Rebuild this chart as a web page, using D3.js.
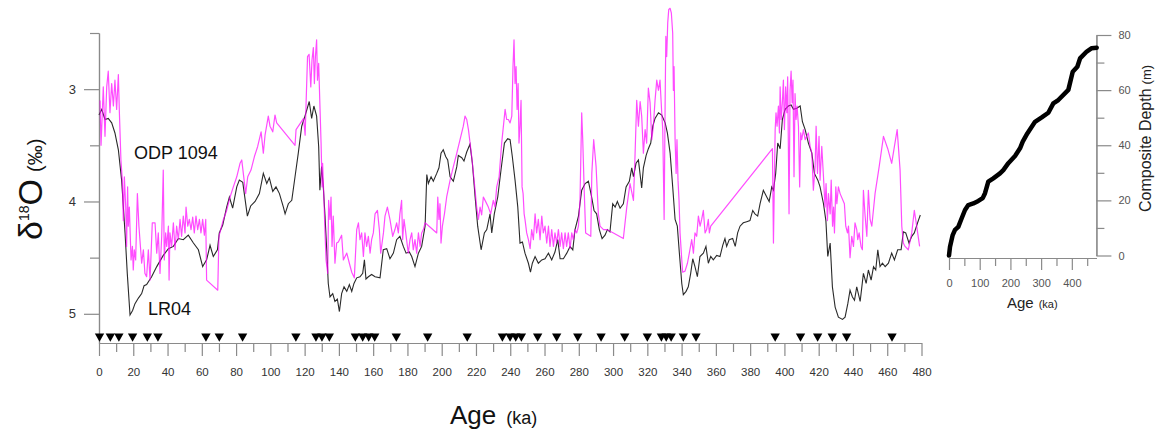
<!DOCTYPE html>
<html>
<head>
<meta charset="utf-8">
<script src="https://cdn.jsdelivr.net/npm/d3@7"></script>
<style>
    body { margin: 0; background: #fff; }
    svg { display: block; font-family: "Liberation Sans", Arial, sans-serif; }
</style>
</head>
<body>
<svg id="chart" width="1161" height="433"></svg>
<script>
// LR04 stack, [age ka, d18O permil]
const lr04 = [
    [0,3.23],[1.6,3.18],[3.5,3.27],[5.4,3.26],[7.4,3.30],[9.3,3.39],[11.3,3.54],[13.2,3.81],[15.2,4.28],[16.5,4.64],
    [18.1,5.01],[19.6,4.97],[21.0,4.91],[23.0,4.86],[24.9,4.82],[26.3,4.75],[27.8,4.74],[30.7,4.67],[33.7,4.58],[37.5,4.48],
    [40.5,4.42],[43.4,4.40],[46.3,4.33],[49.2,4.34],[52.1,4.30],[55.1,4.37],[58.0,4.43],[60.5,4.58],[62.8,4.52],[64.8,4.39],
    [66.7,4.49],[69.1,4.43],[70.2,4.28],[72.2,4.21],[74.5,4.05],[76.1,3.96],[78.0,4.06],[80.4,3.87],[81.9,3.81],[83.9,3.83],
    [86.6,4.13],[88.5,4.04],[91.1,4.00],[93.6,3.93],[95.9,3.75],[97.9,3.84],[99.4,3.79],[101.4,3.91],[103.3,3.87],[105.3,3.93],
    [107.6,4.05],[108.6,4.11],[110.5,4.02],[112.5,3.99],[114.4,3.78],[116.3,3.57],[118.3,3.33],[120.2,3.24],[122.7,3.11],[124.1,3.26],
    [125.4,3.15],[127.0,3.24],[128.2,3.51],[128.9,3.90],[129.9,3.69],[130.9,3.87],[131.9,4.13],[132.9,4.43],[133.8,4.73],[134.8,4.85],
    [136.4,4.82],[137.7,4.89],[139.1,4.87],[140.3,4.98],[141.6,4.82],[143.0,4.76],[144.6,4.80],[146.1,4.74],[147.5,4.80],[148.8,4.73],
    [150.4,4.68],[152.3,4.67],[153.9,4.64],[154.9,4.52],[155.8,4.69],[157.2,4.67],[159.1,4.65],[161.1,4.67],[164.0,4.68],[165.9,4.43],
    [167.9,4.42],[169.8,4.51],[171.8,4.46],[173.7,4.34],[175.6,4.31],[177.6,4.40],[179.2,4.46],[181.1,4.45],[182.5,4.49],[184.4,4.58],
    [186.4,4.46],[188.3,4.40],[190.3,4.22],[191.3,3.76],[192.2,3.84],[193.8,3.78],[195.1,3.82],[197.1,3.75],[198.4,3.70],[199.6,3.57],
    [200.9,3.54],[202.3,3.60],[203.5,3.63],[204.9,3.78],[206.8,3.82],[208.8,3.69],[209.7,3.59],[211.7,3.61],[213.0,3.64],[214.6,3.56],
    [216.5,3.49],[217.9,3.66],[219.5,3.96],[221.0,4.22],[223.0,4.43],[224.9,4.28],[226.3,4.25],[228.2,4.11],[229.2,4.28],[230.7,4.11],
    [232.7,3.96],[234.6,3.72],[236.6,3.48],[238.5,3.44],[239.9,3.45],[241.2,3.60],[242.8,3.81],[244.4,4.05],[245.7,4.37],[247.1,4.36],
    [248.6,4.46],[250.6,4.55],[251.8,4.63],[252.9,4.55],[254.5,4.49],[256.4,4.55],[258.4,4.52],[260.3,4.51],[262.3,4.46],[264.2,4.52],
    [266.1,4.45],[267.7,4.34],[269.1,4.51],[271.0,4.51],[273.0,4.46],[274.9,4.40],[276.5,4.43],[277.8,4.25],[279.8,4.13],[281.7,3.90],
    [283.7,3.84],[285.6,3.82],[287.5,3.96],[288.9,4.08],[290.4,4.11],[292.0,4.25],[293.6,4.33],[295.3,4.30],[296.7,4.25],[298.2,4.27],
    [299.8,4.02],[301.2,4.05],[302.5,4.00],[304.1,4.06],[306.0,4.02],[307.6,3.87],[309.5,3.82],[310.9,3.70],[311.9,3.78],[313.4,3.66],
    [314.8,3.63],[316.7,3.88],[317.7,3.70],[319.3,3.59],[320.6,3.53],[322.0,3.48],[323.2,3.33],[324.5,3.26],[326.5,3.21],[328.4,3.23],
    [330.4,3.30],[331.7,3.39],[333.3,3.57],[334.8,3.87],[336.2,4.16],[337.5,4.22],[338.7,4.46],[340.1,4.73],[341.0,4.83],[342.6,4.80],
    [343.9,4.76],[345.3,4.64],[346.5,4.51],[347.8,4.58],[349.2,4.67],[350.7,4.49],[352.7,4.46],[354.2,4.40],[355.6,4.55],[357.0,4.49],
    [358.5,4.52],[360.5,4.48],[362.4,4.49],[364.0,4.39],[365.3,4.33],[366.3,4.40],[367.8,4.34],[369.8,4.33],[371.3,4.40],[372.7,4.28],
    [374.1,4.22],[376.0,4.19],[378.0,4.18],[379.9,4.17],[381.5,4.08],[382.8,4.11],[384.4,4.13],[385.8,4.02],[387.7,3.90],[389.7,3.96],
    [391.1,4.00],[392.6,3.87],[393.6,3.90],[394.9,3.75],[396.1,3.48],[397.5,3.53],[398.8,3.27],[400.4,3.18],[402.3,3.15],[403.9,3.14],
    [405.3,3.18],[407.2,3.17],[409.2,3.15],[410.5,3.29],[412.1,3.36],[414.0,3.48],[416.0,3.57],[417.5,3.75],[419.5,3.81],[420.8,3.87],
    [422.8,4.02],[424.2,4.17],[425.3,4.49],[426.7,4.37],[428.0,4.76],[429.6,4.94],[431.5,5.03],[433.9,5.05],[435.4,5.03],[437.0,4.91],
    [438.3,4.79],[439.7,4.85],[440.9,4.88],[442.2,4.76],[444.2,4.89],[446.1,4.64],[447.7,4.73],[449.0,4.61],[450.6,4.70],[452.0,4.58],
    [453.3,4.61],[454.5,4.43],[455.8,4.58],[457.2,4.55],[458.8,4.58],[460.7,4.55],[462.6,4.46],[464.2,4.52],[466.1,4.43],[468.1,4.43],
    [469.4,4.27],[470.8,4.28],[472.7,4.37],[474.3,4.31],[475.8,4.28],[477.7,4.19],[479.3,4.12]
];

// ODP 1094 benthic record, [age ka, d18O permil]
const odp1094 = [
    [0.6,3.10],[1.2,3.50],[2.5,2.98],[3.5,3.42],[4.5,2.98],[5.4,2.84],[6.4,3.21],[7.4,2.95],[8.4,3.15],[9.3,2.92],
    [10.3,3.18],[11.3,2.87],[11.9,3.21],[12.8,3.63],[13.6,3.81],[14.2,4.17],[14.8,3.78],[15.6,4.05],[16.1,4.40],[16.7,3.87],
    [17.1,4.22],[17.7,4.05],[18.7,4.52],[19.5,4.40],[20.0,4.61],[20.6,4.43],[21.4,4.52],[22.4,3.93],[23.3,4.22],[24.9,4.55],
    [25.9,4.43],[26.8,4.64],[27.8,4.67],[28.8,4.43],[29.8,4.70],[31.1,4.19],[32.7,4.19],[33.7,4.46],[34.6,4.28],[35.6,4.64],
    [36.6,4.31],[37.5,3.72],[38.1,4.52],[38.9,4.28],[39.5,4.40],[40.5,4.22],[40.9,4.70],[41.4,4.28],[42.4,4.40],[43.4,4.19],
    [44.4,4.43],[45.3,4.22],[46.3,4.34],[47.3,4.16],[48.2,4.31],[49.2,4.13],[50.2,4.28],[50.8,4.05],[51.8,4.22],[52.7,4.16],
    [53.7,4.25],[54.7,4.14],[55.6,4.28],[56.6,4.13],[57.6,4.25],[58.6,4.16],[59.5,4.28],[60.5,4.16],[61.5,4.30],[62.3,4.16],
    [62.8,4.70],[69.3,4.79],[70.0,4.31],[72.6,4.16],[74.5,4.08],[76.5,3.96],[78.4,3.87],[80.4,3.78],[82.3,3.66],[83.3,3.63],
    [85.6,3.93],[86.8,3.78],[88.7,3.72],[90.7,3.60],[92.6,3.51],[94.6,3.38],[95.9,3.57],[96.9,3.41],[98.8,3.24],[99.8,3.33],
    [101.4,3.38],[102.7,3.23],[103.7,3.30],[114.4,3.50],[115.0,3.36],[119.4,3.26],[120.3,3.41],[120.9,3.10],[121.7,2.71],[122.6,2.69],
    [123.6,2.98],[124.3,2.74],[125.1,2.63],[125.7,2.95],[126.3,2.71],[127.0,2.56],[127.5,2.92],[128.2,2.77],[129.0,3.18],[129.6,3.48],
    [130.2,3.87],[130.5,3.66],[131.3,3.99],[131.9,4.28],[132.5,4.52],[133.5,4.64],[134.0,3.99],[134.8,4.16],[135.4,3.96],[136.0,4.40],
    [136.7,4.13],[137.7,4.55],[138.7,4.37],[139.7,4.36],[141.6,4.30],[142.6,4.52],[144.6,4.46],[146.1,4.55],[147.5,4.63],[149.0,4.68],
    [150.4,4.25],[151.4,4.19],[152.3,4.34],[153.3,4.28],[154.3,4.49],[155.2,4.28],[156.2,4.40],[157.2,4.31],[158.2,4.46],[159.1,4.34],
    [160.1,4.28],[161.1,4.11],[162.5,4.08],[163.6,4.25],[164.4,4.46],[166.0,4.28],[166.9,4.13],[168.3,4.05],[169.8,4.16],[171.4,4.31],
    [172.7,4.25],[173.7,4.19],[174.7,4.28],[175.6,4.11],[176.6,3.99],[177.2,4.34],[178.0,4.16],[178.8,4.25],[179.5,4.34],[180.5,4.46],
    [181.5,4.34],[182.5,4.28],[183.4,4.43],[184.4,4.34],[185.4,4.46],[186.4,4.28],[187.4,4.40],[188.3,4.28],[189.3,4.25],[190.3,4.19],
    [197.1,4.28],[197.7,3.96],[198.4,4.16],[199.0,4.02],[199.6,4.37],[200.4,4.22],[201.6,4.11],[202.9,3.96],[204.9,3.81],[206.8,3.69],
    [208.8,3.57],[210.7,3.45],[212.6,3.33],[213.6,3.24],[214.6,3.27],[215.6,3.36],[217.5,3.60],[219.1,3.84],[220.4,4.05],[221.4,4.16],
    [222.4,4.05],[223.3,4.12],[224.3,3.96],[225.3,3.99],[227.2,4.05],[228.6,4.11],[230.1,3.99],[231.1,4.05],[232.1,3.87],[233.5,3.78],
    [235.0,3.48],[237.0,3.18],[237.9,3.27],[238.9,3.27],[239.9,3.30],[240.9,3.24],[241.6,2.80],[242.2,2.56],[242.8,2.95],[243.4,2.80],
    [244.0,3.18],[244.6,2.95],[245.1,3.48],[245.7,3.33],[246.3,3.10],[246.9,3.87],[247.5,3.93],[248.1,4.11],[248.6,4.16],[249.6,4.28],
    [250.6,4.34],[251.6,4.42],[252.5,4.25],[253.5,4.34],[254.5,4.11],[255.4,4.28],[256.4,4.16],[257.4,4.34],[258.4,4.13],[259.3,4.28],
    [260.3,4.22],[261.3,4.37],[262.3,4.22],[263.2,4.40],[264.2,4.25],[265.2,4.40],[266.1,4.28],[267.1,4.37],[268.1,4.25],[269.1,4.40],
    [270.0,4.28],[271.0,4.42],[272.0,4.28],[272.9,4.40],[273.9,4.28],[274.9,4.42],[275.9,4.28],[276.8,4.34],[277.8,4.25],[278.8,4.28],
    [279.8,4.22],[280.7,3.99],[281.7,3.21],[282.3,3.45],[283.1,3.87],[284.0,4.28],[287.0,4.31],[287.6,3.75],[288.7,3.45],[290.1,3.69],
    [291.4,4.11],[292.4,4.22],[294.4,4.25],[296.3,4.25],[300.2,4.28],[306.0,4.33],[308.0,4.05],[309.9,3.84],[311.9,3.99],[312.8,3.60],
    [313.8,3.10],[314.8,3.33],[315.8,3.11],[316.7,3.24],[317.7,3.57],[318.7,3.36],[319.6,3.48],[320.6,2.99],[321.6,3.12],[322.6,3.45],
    [323.5,3.33],[324.5,3.10],[325.5,2.92],[326.5,3.01],[327.4,2.92],[328.4,3.21],[329.0,3.36],[329.8,4.16],[330.4,3.10],[330.8,2.53],
    [331.3,2.71],[331.9,2.41],[332.5,2.29],[333.3,2.28],[334.0,2.32],[334.8,2.50],[335.2,3.01],[335.6,2.80],[336.2,3.45],[336.8,3.75],
    [337.3,3.45],[337.9,3.81],[338.5,3.99],[339.1,4.28],[340.1,4.52],[340.6,4.63],[342.0,4.62],[343.4,4.55],[344.5,4.46],[345.9,4.34],
    [346.9,4.46],[347.8,4.28],[348.8,4.31],[349.8,4.13],[350.8,4.22],[351.7,4.16],[352.7,4.08],[353.7,4.28],[354.6,4.25],[355.6,4.16],
    [356.2,4.28],[357.0,4.22],[393.0,3.53],[393.6,4.37],[394.6,3.36],[395.1,3.21],[395.7,3.33],[396.5,3.15],[397.1,3.39],[397.5,2.98],
    [398.1,3.27],[398.8,3.12],[399.4,2.92],[400.0,3.36],[400.7,2.98],[401.4,3.21],[401.9,2.89],[402.7,4.11],[403.3,3.01],[403.9,2.84],
    [404.5,3.12],[405.0,2.92],[405.6,3.78],[406.2,3.04],[406.8,3.27],[407.4,3.15],[408.2,3.33],[408.9,3.87],[409.5,3.39],[410.1,3.45],
    [411.1,3.36],[412.1,3.45],[413.0,3.42],[414.0,3.39],[415.0,3.51],[416.0,3.57],[416.9,3.90],[417.9,3.69],[418.5,3.33],[419.3,3.75],
    [420.2,3.42],[420.8,3.81],[421.8,3.51],[422.8,3.78],[423.7,4.05],[424.3,3.84],[425.1,4.17],[425.7,3.93],[426.7,4.11],[427.3,3.81],
    [428.1,4.22],[428.7,4.05],[429.2,4.28],[430.0,3.87],[430.6,4.02],[431.5,3.87],[432.5,3.93],[435.0,4.02],[435.8,4.22],[436.8,4.28],
    [437.4,4.22],[438.3,4.50],[439.3,4.31],[440.3,4.40],[441.2,4.19],[442.2,4.25],[442.8,4.34],[443.6,4.28],[444.7,4.40],[445.5,4.43],
    [446.1,3.90],[447.1,4.13],[448.1,4.31],[449.0,3.90],[450.0,4.16],[451.0,4.22],[452.9,3.93],[455.3,3.69],[457.8,3.42],[460.3,3.53],
    [462.6,3.66],[464.2,3.51],[465.8,3.36],[467.5,3.72],[468.5,4.22],[469.4,4.37],[470.4,4.40],[472.3,4.43],[474.3,4.28],[475.8,4.08],
    [477.2,4.22],[478.9,4.40]
];

// age control points (ka), drawn as triangles under the curves
const tiePoints = [
    0.3, 6.6, 11.6, 19.6, 28.2, 34.4, 62.4, 70.2, 83.8, 114.9, 126.6, 130.1, 134.4,
    149.6, 153.9, 157.4, 160.9, 173.5, 191.8, 214.9, 235.4, 239.9, 243.2, 246.5,
    256.0, 267.1, 279.4, 293.0, 306.8, 320.0, 328.2, 331.0, 333.9, 341.0, 348.4,
    394.6, 409.4, 419.4, 427.9, 436.3, 462.8
];

// age model of the inset, [age ka, composite depth m]
const depthAge = [
    [0,0],[3.3,3.2],[12,7.4],[19.5,9.3],[30.3,10.4],[41.3,13.5],[52.1,16.5],[62.9,18.3],[79.2,18.9],[95.5,19.8],
    [109.8,20.8],[117.3,22.6],[128,26.8],[144.3,28.0],[166.1,29.8],[176.9,31.0],[193.2,33.5],[215,36.1],[231.3,38.9],
    [240.1,41.3],[255.1,44.3],[280.1,48.5],[302,50.1],[323.5,51.8],[339.7,55.2],[356,56.4],[388.6,60.1],[402.9,66.7],
    [417.9,68.5],[426.7,71.5],[448.5,74.0],[464.8,75.2],[481,75.4]
];

const ageTicks = d3.range(0, 481, 20);
const ageMinor = d3.range(10, 480, 20);
const d18oTicks = [3, 4, 5];
const d18oMinor = [2.5, 3.5, 4.5];
const insetAgeTicks = [0, 100, 200, 300, 400];
const insetAgeMinor = [50, 150, 250, 350, 450];
const depthTicks = [0, 20, 40, 60, 80];
const depthMinor = [10, 30, 50, 70];

const AXIS = "#8a8a8a";
const svg = d3.select("#chart");

// ---- main panel
const x = d3.scaleLinear().domain([0, 480]).range([99, 921.5]);
const y = d3.scaleLinear().domain([2.5, 5.26]).range([33, 343]);

function styleAxis(g, fontSize, color) {
    g.selectAll(".domain").attr("stroke", AXIS).attr("stroke-width", 1.2);
    g.selectAll(".tick line").attr("stroke", AXIS).attr("stroke-width", 1.2);
    g.selectAll("text").attr("font-size", fontSize).attr("fill", color)
        .attr("font-family", "'Liberation Sans', Arial, sans-serif");
}

svg.append("g")
    .attr("transform", `translate(0,${y.range()[1]})`)
    .call(d3.axisBottom(x).tickValues(ageMinor).tickSize(9).tickSizeOuter(0).tickFormat(""))
    .call(g => styleAxis(g, 11.5, "#333"));
svg.append("g")
    .attr("transform", `translate(0,${y.range()[1]})`)
    .call(d3.axisBottom(x).tickValues(ageTicks).tickSize(13).tickSizeOuter(0).tickPadding(12))
    .call(g => styleAxis(g, 11.5, "#333"));

svg.append("g")
    .attr("transform", `translate(${x(0)},0)`)
    .call(d3.axisLeft(y).tickValues(d18oMinor).tickSize(9).tickSizeOuter(0).tickFormat(""))
    .call(g => styleAxis(g, 13, "#333"));
svg.append("g")
    .attr("transform", `translate(${x(0)},0)`)
    .call(d3.axisLeft(y).tickValues(d18oTicks).tickSize(15).tickSizeOuter(0).tickPadding(8)
        .tickFormat(d3.format("d")))
    .call(g => styleAxis(g, 13, "#333"));

const line = d3.line().x(d => x(d[0])).y(d => y(d[1]));

svg.append("path")
    .datum(lr04)
    .attr("fill", "none")
    .attr("stroke", "#2a2a2a")
    .attr("stroke-width", 1.1)
    .attr("d", line);

svg.append("path")
    .datum(odp1094)
    .attr("fill", "none")
    .attr("stroke", "#ff00ff")
    .attr("stroke-opacity", 0.7)
    .attr("stroke-width", 1.2)
    .attr("stroke-linejoin", "round")
    .attr("d", line);

svg.append("g").selectAll("path")
    .data(tiePoints)
    .enter()
    .append("path")
    .attr("d", d3.symbol(d3.symbolTriangle, 38))
    .attr("transform", d => `translate(${x(d)},${y(5.2)}) rotate(180)`)
    .attr("fill", "#000");

svg.append("text").attr("x", 134).attr("y", 159)
    .attr("font-size", 18).attr("fill", "#111").text("ODP 1094");
svg.append("text").attr("x", 148).attr("y", 315)
    .attr("font-size", 18).attr("fill", "#111").text("LR04");

// axis titles
const ageTitle = svg.append("text").attr("x", 450).attr("y", 424).attr("fill", "#111");
ageTitle.append("tspan").attr("font-size", 26).text("Age");
ageTitle.append("tspan").attr("font-size", 18).attr("dx", 10).text("(ka)");

const yTitle = svg.append("text")
    .attr("transform", "translate(42,240) rotate(-90)")
    .attr("fill", "#111");
yTitle.append("tspan").attr("font-size", 34).text("δ");
yTitle.append("tspan").attr("font-size", 14).attr("dy", -13).text("18");
yTitle.append("tspan").attr("font-size", 34).attr("dy", 13).text("O");
yTitle.append("tspan").attr("font-size", 20).attr("dx", 7).text("(‰)");

// ---- inset: age vs composite depth
const xi = d3.scaleLinear().domain([0, 480]).range([949, 1096.4]);
const yi = d3.scaleLinear().domain([0, 80]).range([255.5, 35]);

svg.append("g")
    .attr("transform", "translate(0,258)")
    .call(d3.axisBottom(xi).tickValues(insetAgeMinor).tickSize(8).tickSizeOuter(0).tickFormat(""))
    .call(g => styleAxis(g, 11, "#555"));
svg.append("g")
    .attr("transform", "translate(0,258)")
    .call(d3.axisBottom(xi).tickValues(insetAgeTicks).tickSize(12).tickSizeOuter(0).tickPadding(9))
    .call(g => styleAxis(g, 11, "#555"));

svg.append("g")
    .attr("transform", `translate(${xi(480)},0)`)
    .call(d3.axisRight(yi).tickValues(depthMinor).tickSize(8).tickSizeOuter(0).tickFormat(""))
    .call(g => styleAxis(g, 11, "#555"));
svg.append("g")
    .attr("transform", `translate(${xi(480)},0)`)
    .call(d3.axisRight(yi).tickValues(depthTicks).tickSize(15).tickSizeOuter(0).tickPadding(7))
    .call(g => styleAxis(g, 11, "#555"));

svg.append("path")
    .datum(depthAge)
    .attr("fill", "none")
    .attr("stroke", "#000")
    .attr("stroke-width", 4.5)
    .attr("stroke-linejoin", "round")
    .attr("stroke-linecap", "round")
    .attr("d", d3.line().x(d => xi(d[0])).y(d => yi(d[1])));

const insetAge = svg.append("text").attr("x", 1007).attr("y", 308).attr("fill", "#222");
insetAge.append("tspan").attr("font-size", 15).text("Age");
insetAge.append("tspan").attr("font-size", 11).attr("dx", 5).text("(ka)");

const depthTitle = svg.append("text")
    .attr("transform", "translate(1151,212) rotate(-90)")
    .attr("fill", "#222");
depthTitle.append("tspan").attr("font-size", 16).text("Composite Depth");
depthTitle.append("tspan").attr("font-size", 13).attr("dx", 4).text("(m)");
</script>
</body>
</html>
